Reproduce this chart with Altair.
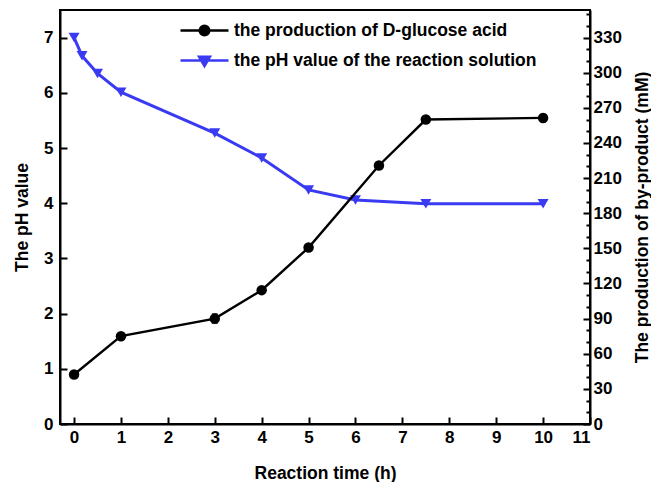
import altair as alt
import pandas as pd

# ---- data ----
time_ph = [0, 0.17, 0.5, 1, 3, 4, 5, 6, 7.5, 10]
ph_values = [7.0, 6.67, 6.35, 6.01, 5.27, 4.82, 4.24, 4.06, 3.99, 3.99]

time_prod = [0, 1, 3, 4, 5, 6.5, 7.5, 10]
prod_values = [42.3, 75.0, 90.0, 114.3, 150.7, 220.8, 260.0, 261.4]
prod_err = [2.0, 2.5, 4.0, 2.0, 2.0, 2.0, 2.0, 3.0]

series_names = ["the production of D-glucose acid",
                "the pH value of the reaction solution"]
series_colors = ["#000000", "#3a3af2"]

x_ticks = [i * 0.5 for i in range(0, 23)]
ph_ticks = [i * 0.5 for i in range(0, 16)]
prod_ticks = [i * 10 for i in range(0, 36)]

FONT = "Liberation Sans"
PROD_MAX = 7.5 * 330 / 7

df_ph = pd.DataFrame({"t": time_ph, "v": ph_values, "s": series_names[1]})
df_prod = pd.DataFrame({"t": time_prod, "v": prod_values, "s": series_names[0],
                        "lo": [v - e for v, e in zip(prod_values, prod_err)],
                        "hi": [v + e for v, e in zip(prod_values, prod_err)]})
df_leg = pd.DataFrame({"s": series_names})

color_scale = alt.Scale(domain=series_names, range=series_colors)

# legend glyphs: a line with a marker in the middle (drawn wider than the unit box)
line_circle = "M-2,0L2,0M0.4,0A0.4,0.4 0 1,1 -0.4,0A0.4,0.4 0 1,1 0.4,0Z"
line_tri = "M-2,0L2,0M-0.46,-0.32L0.46,-0.32L0,0.46Z"

legend_obj = alt.Legend(title=None, orient="none", legendX=131, legendY=7,
                        symbolSize=576, symbolStrokeWidth=2.4,
                        labelFont=FONT, labelFontSize=17.5,
                        labelFontWeight="bold", labelColor="black",
                        rowPadding=6, labelOffset=16, labelLimit=0, padding=0)


def tsize(test):
    return {"condition": {"test": test, "value": -7}, "value": -4}


x_enc = alt.X("t:Q", scale=alt.Scale(domain=[-0.3, 11], nice=False, zero=False),
              axis=alt.Axis(title="Reaction time (h)", values=x_ticks, format="d",
                            labelExpr="datum.value % 1 === 0 ? datum.label : ''",
                            tickSize=tsize("datum.value % 1 === 0"),
                            grid=False))

ph_axis = alt.Axis(title="The pH value", orient="left", values=ph_ticks, format="d",
                   labelExpr="datum.value % 1 === 0 ? datum.label : ''",
                   tickSize=tsize("datum.value % 1 === 0"), grid=False)
prod_axis = alt.Axis(title="The production of by-product (mM)", orient="right",
                     values=prod_ticks, format="d",
                     labelExpr="datum.value % 30 === 0 ? datum.label : ''",
                     tickSize=tsize("datum.value % 30 === 0"), grid=False,
                     titleAngle=270, titleBaseline="top")

ph_y = alt.Y("v:Q", scale=alt.Scale(domain=[0, 7.5], nice=False), axis=ph_axis)
prod_scale = alt.Scale(domain=[0, PROD_MAX], nice=False)
prod_y = alt.Y("v:Q", scale=prod_scale, axis=prod_axis)

ph_base = alt.Chart(df_ph).encode(x=x_enc, y=ph_y,
                                  color=alt.Color("s:N", scale=color_scale, legend=legend_obj))
ph_layer = alt.layer(
    ph_base.mark_line(strokeWidth=3),
    ph_base.mark_point(filled=True, shape="triangle-down", size=120, opacity=1),
)

prod_base = alt.Chart(df_prod).encode(x=x_enc,
                                      color=alt.Color("s:N", scale=color_scale, legend=legend_obj))
prod_layer = alt.layer(
    prod_base.mark_line(strokeWidth=2.4).encode(y=prod_y),
    prod_base.mark_errorbar(ticks=alt.MarkConfig(size=6), thickness=1.5).encode(
        y=alt.Y("lo:Q", scale=prod_scale, axis=prod_axis),
        y2="hi:Q"),
    prod_base.mark_point(filled=True, shape="circle", size=110, opacity=1).encode(y=prod_y),
)

legend_layer = alt.Chart(df_leg).transform_filter("false").mark_point(
    filled=True, opacity=1).encode(
    color=alt.Color("s:N", scale=color_scale, legend=legend_obj),
    shape=alt.Shape("s:N", scale=alt.Scale(domain=series_names, range=[line_circle, line_tri]),
                    legend=legend_obj),
    stroke=alt.Stroke("s:N", scale=color_scale, legend=legend_obj),
)

chart = alt.layer(ph_layer, prod_layer, legend_layer).resolve_scale(
    y="independent"
).properties(
    width=530, height=414, padding={"left": 5, "top": 2, "right": 0, "bottom": 0}
).configure_view(
    stroke="black", strokeWidth=2
).configure_axis(
    domainColor="black", domainWidth=2, tickColor="black", tickWidth=2,
    labelFont=FONT, labelFontSize=17, labelFontWeight="bold", labelColor="black",
    titleFont=FONT, titleFontSize=17.5, titleFontWeight="bold", titleColor="black",
    labelPadding=10
).configure_axisX(titlePadding=19, labelPadding=12
).configure_axisLeft(titlePadding=12, labelPadding=14
).configure_axisRight(titlePadding=12, labelPadding=10)

chart.save("out.html", embed_options={"renderer": "svg", "actions": False})
